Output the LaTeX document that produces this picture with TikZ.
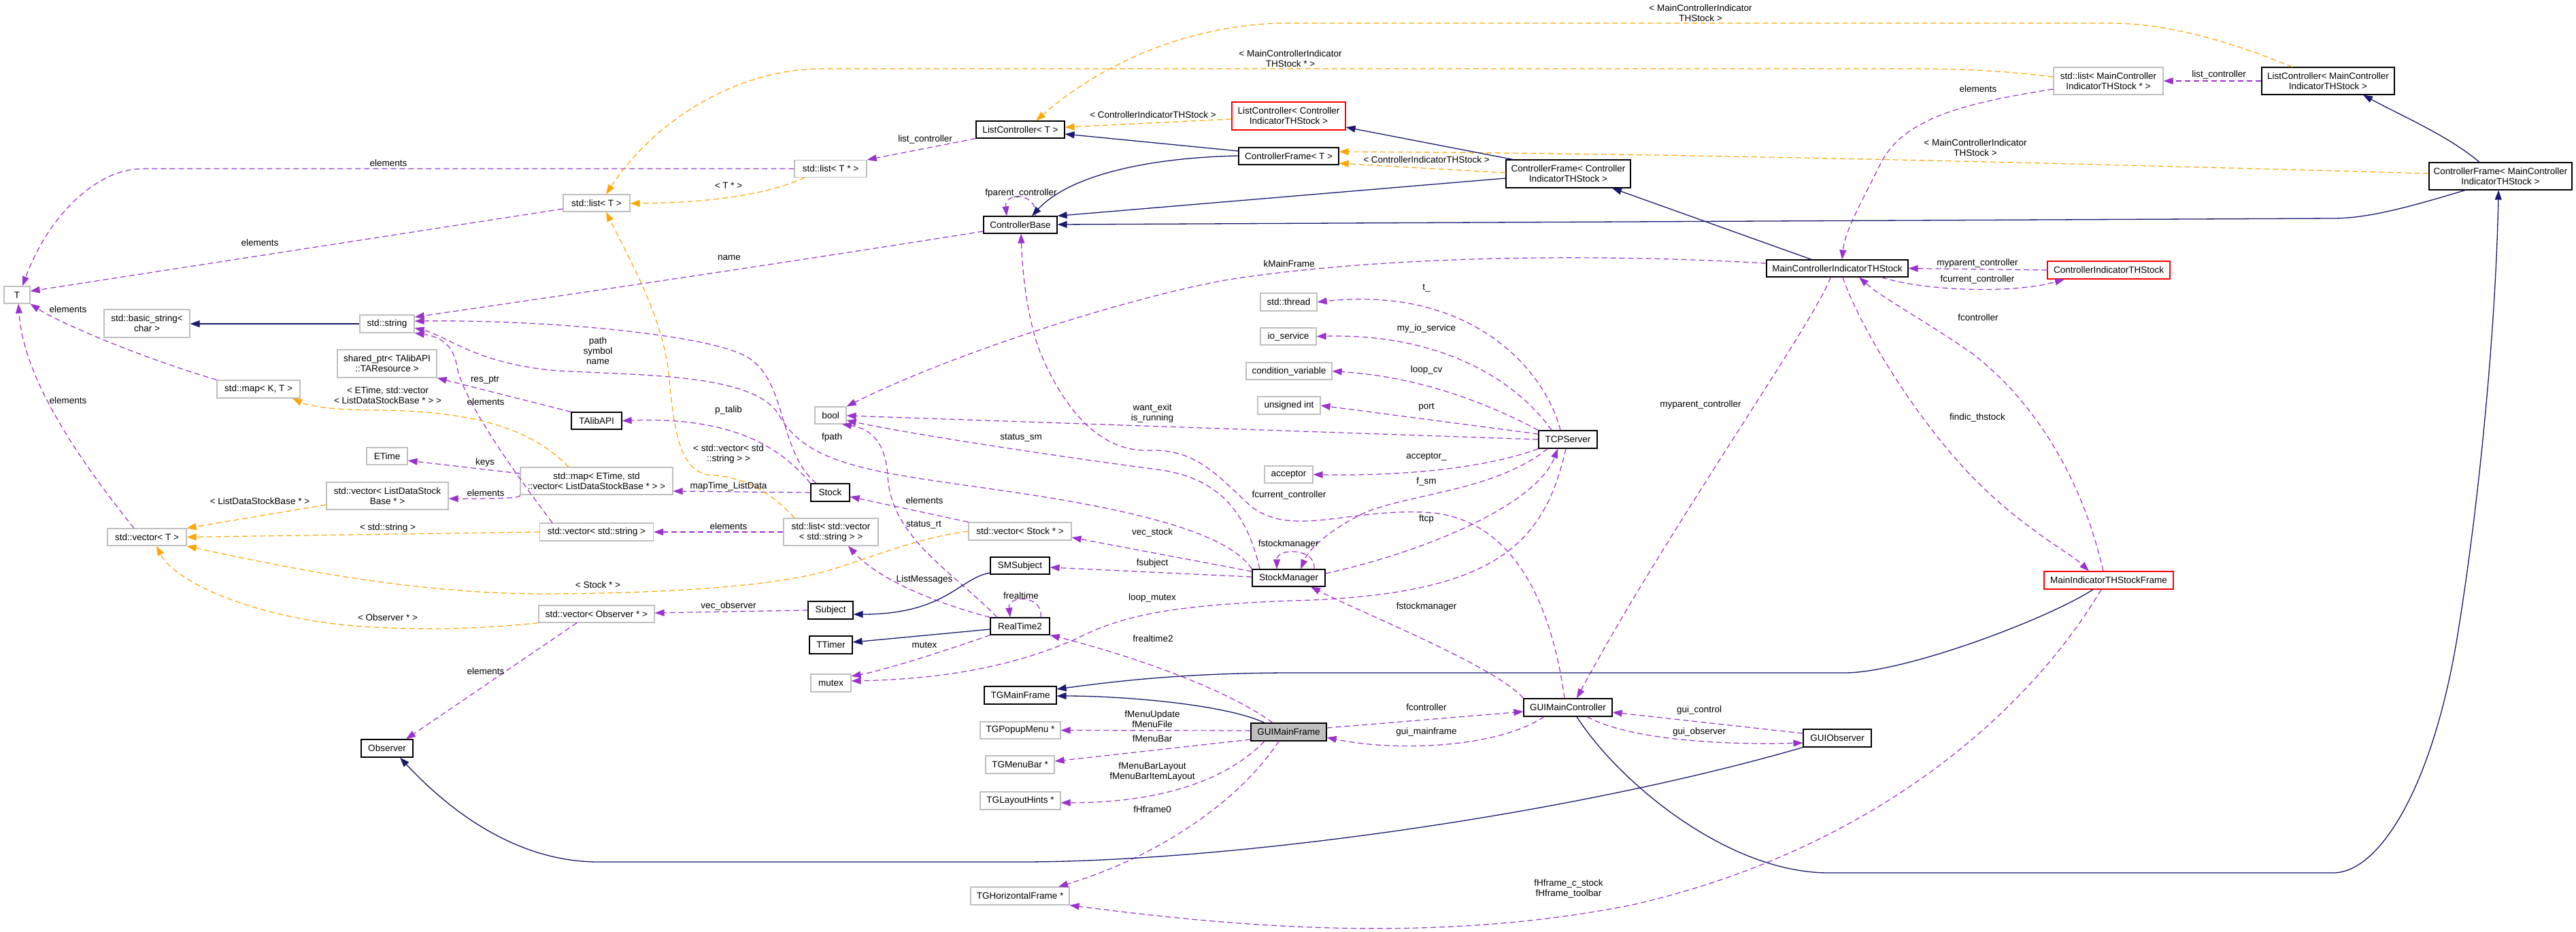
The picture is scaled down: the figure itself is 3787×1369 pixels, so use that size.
\documentclass[tikz,border=0pt]{standalone}
\usepackage{fontspec}
\setmainfont{Liberation Sans}
\usetikzlibrary{arrows.meta}
\definecolor{purp}{HTML}{9A32CD}
\definecolor{orng}{HTML}{FFA500}
\definecolor{navy}{HTML}{191970}
\definecolor{gry}{HTML}{BFBFBF}
\newcommand{\fsz}{\fontsize{13.5}{15}\selectfont}
\tikzset{
 box/.style={draw, line width=1.2pt, inner sep=0pt, align=center, fill=white, font=\fsz},
 undoc/.style={box, draw=gry},
 doc/.style={box, draw=black},
 trunc/.style={box, draw=red},
 wh/.style 2 args={minimum width=#1pt, minimum height=#2pt},
 lbl/.style={inner sep=0pt, align=center, font=\fsz},
 mem/.style={draw=purp, line width=1.2pt, dash pattern=on 8pt off 5pt, -{Triangle[length=14pt,width=10pt]}},
 tpl/.style={mem, draw=orng},
 inh/.style={draw=navy, line width=1.3pt, -{Triangle[length=14pt,width=10pt]}},
}
\begin{document}
\begin{tikzpicture}[x=1pt,y=-1pt]
\fill[white] (0,0) rectangle (3787,1369);
\path[use as bounding box] (0,0) rectangle (3787,1369);
% ---------- nodes ----------
\node[undoc,wh={38}{25}] (T) at (25,433.5) {T};
\node[undoc,wh={98}{25}] (listT) at (877,298.5) {std::list< T >};
\node[undoc,wh={126}{41}] (basicstr) at (216,475.5) {std::basic\_string<\\char >};
\node[undoc,wh={80}{26}] (stdstr) at (569,476) {std::string};
\node[undoc,wh={146}{41}] (sharedptr) at (569,534.5) {shared\_ptr< TAlibAPI\\::TAResource >};
\node[undoc,wh={122}{26}] (mapKT) at (380,572) {std::map< K, T >};
\node[doc,wh={74}{25}] (talib) at (877,618.5) {TAlibAPI};
\node[undoc,wh={60}{25}] (etime) at (569,670.5) {ETime};
\node[undoc,wh={224}{40}] (mapET) at (877,707) {std::map< ETime, std\\::vector< ListDataStockBase * > >};
\node[undoc,wh={179}{40}] (vecLDSB) at (569.5,729) {std::vector< ListDataStock\\Base * >};
\node[undoc,wh={116}{25}] (vecT) at (216,789.5) {std::vector< T >};
\node[undoc,wh={167}{26}] (vecStr) at (877,782) {std::vector< std::string >};
\node[undoc,wh={170}{25}] (vecObs) at (877,902.5) {std::vector< Observer * >};
\node[doc,wh={76}{26}] (observer) at (569,1100) {Observer};
\node[undoc,wh={106}{25}] (listTp) at (1221,248) {std::list< T * >};
\node[doc,wh={130}{25}] (lcT) at (1500,190.5) {ListController< T >};
\node[doc,wh={108}{25}] (cbase) at (1500,330.5) {ControllerBase};
\node[trunc,wh={167}{41}] (lcCIT) at (1894.5,170.5) {ListController< Controller\\IndicatorTHStock >};
\node[doc,wh={147}{25}] (cfT) at (1894.5,229.5) {ControllerFrame< T >};
\node[undoc,wh={83}{26}] (thread) at (1894.5,444) {std::thread};
\node[undoc,wh={82}{25}] (ioserv) at (1894,494.5) {io\_service};
\node[undoc,wh={126}{25}] (condvar) at (1895,545.5) {condition\_variable};
\node[undoc,wh={92}{26}] (uint) at (1895,596) {unsigned int};
\node[undoc,wh={71}{25}] (acceptor) at (1894.5,697.5) {acceptor};
\node[undoc,wh={46}{25}] (bool) at (1221,610.5) {bool};
\node[doc,wh={57}{26}] (stock) at (1220.5,724) {Stock};
\node[undoc,wh={139}{40}] (listVecStr) at (1221.5,782) {std::list< std::vector\\< std::string > >};
\node[undoc,wh={151}{26}] (vecStock) at (1499.5,781) {std::vector< Stock * >};
\node[doc,wh={87}{25}] (smsubject) at (1499.5,831.5) {SMSubject};
\node[doc,wh={66}{26}] (subject) at (1221,897) {Subject};
\node[doc,wh={107}{25}] (stockmgr) at (1894.5,849.5) {StockManager};
\node[doc,wh={87}{25}] (realtime2) at (1499.5,920.5) {RealTime2};
\node[doc,wh={63}{26}] (ttimer) at (1221.5,948) {TTimer};
\node[undoc,wh={59}{26}] (mutex) at (1221.5,1004) {mutex};
\node[doc,wh={106}{26}] (tgmain) at (1500,1022) {TGMainFrame};
\node[undoc,wh={118}{25}] (tgpopup) at (1500,1073.5) {TGPopupMenu *};
\node[undoc,wh={101}{26}] (tgmenubar) at (1499.5,1124) {TGMenuBar *};
\node[undoc,wh={118}{26}] (tglayout) at (1500,1177) {TGLayoutHints *};
\node[undoc,wh={145}{26}] (tghframe) at (1499.5,1317) {TGHorizontalFrame *};
\node[doc,fill=gry,wh={111}{26}] (gmf) at (1894.5,1076) {GUIMainFrame};
\node[doc,wh={86}{26}] (tcp) at (2305,646) {TCPServer};
\node[doc,wh={183}{41}] (cfCIT) at (2305.5,255.5) {ControllerFrame< Controller\\IndicatorTHStock >};
\node[doc,wh={208}{25}] (mainCIT) at (2701,394.5) {MainControllerIndicatorTHStock};
\node[doc,wh={130}{26}] (gmc) at (2305,1040) {GUIMainController};
\node[doc,wh={100}{26}] (guiobs) at (2701,1085) {GUIObserver};
\node[undoc,wh={161}{40}] (listMCIT) at (3099.5,119) {std::list< MainController\\IndicatorTHStock * >};
\node[doc,wh={195}{40}] (lcMCIT) at (3422.5,119) {ListController< MainController\\IndicatorTHStock >};
\node[doc,wh={210}{40}] (cfMCIT) at (3676,259) {ControllerFrame< MainController\\IndicatorTHStock >};
\node[trunc,wh={180}{26}] (cit) at (3100,397) {ControllerIndicatorTHStock};
\node[trunc,wh={190}{26}] (mitsf) at (3100,853) {MainIndicatorTHStockFrame};
% ---------- member edges ----------
\draw[mem] (listT.west |- 0,307) -- (T.east |- 0,428);
\draw[mem] (listTp.west) -- (210,248) .. controls (140,248) and (70,320) .. (T.north -| 33,0);
\draw[mem] (mapKT.north west) .. controls (190,520) and (80,470) .. (T.south east);
\draw[mem] (vecT.north -| 197,0) .. controls (120,680) and (35,560) .. (T.south -| 27,0);
\draw[mem] (lcT.south west) -- (listTp.north east);
\draw[mem] (lcMCIT.west) -- (listMCIT.east);
\draw[mem] (listMCIT.west |- 0,131) .. controls (2900,150) and (2800,170) .. (2765,240) .. controls (2735,300) and (2712,340) .. (mainCIT.north -| 2708,0);
\draw[mem] (cbase.north -| 1522,0) .. controls (1526,282) and (1476,282) .. (cbase.north -| 1480,0);
\draw[mem] (cbase.west |- 0,340) .. controls (1100,395) and (720,450) .. (stdstr.east |- 0,466);
\draw[mem] (mainCIT.south -| 2766,0) .. controls (2830,428) and (2960,432) .. (cit.south -| 3035,0);
\draw[mem] (cit.west) -- (mainCIT.east);
\draw[mem] (mainCIT.west |- 0,387) .. controls (2300,370) and (2000,380) .. (1800,412) .. controls (1650,440) and (1400,520) .. (bool.north east);
\draw[mem] (tcp.north -| 2294,0) .. controls (2270,540) and (2160,420) .. (thread.east);
\draw[mem] (tcp.north -| 2281,0) .. controls (2230,560) and (2120,490) .. (ioserv.east);
\draw[mem] (tcp.north west) .. controls (2200,600) and (2100,555) .. (condvar.east);
\draw[mem] (tcp.west |- 0,638) -- (uint.east);
\draw[mem] (tcp.west |- 0,646) -- (bool.east |- 0,611);
\draw[mem] (tcp.south west) .. controls (2180,690) and (2050,700) .. (acceptor.east);
\draw[mem] (tcp.south -| 2275,0) .. controls (2200,720) and (2080,725) .. (2010,752) .. controls (1960,775) and (1925,805) .. (stockmgr.north -| 1912,0);
\draw[mem] (stockmgr.east |- 0,843) .. controls (2100,810) and (2260,740) .. (tcp.south -| 2290,0);
\draw[mem] (tcp.south -| 2302,0) .. controls (2270,800) and (2200,875) .. (1900,883) .. controls (1700,890) and (1640,910) .. (1580,940) .. controls (1500,975) and (1400,998) .. (mutex.east |- 0,1001);
\draw[mem] (gmc.north -| 2300,0) .. controls (2280,880) and (2220,758) .. (2094,753) .. controls (1980,748) and (1900,790) .. (1840,745) .. controls (1790,700) and (1760,660) .. (1690,662) .. controls (1610,665) and (1560,590) .. (1530,520) .. controls (1510,470) and (1503,400) .. (cbase.south -| 1501,0);
\draw[mem] (mainCIT.south -| 2709,0) .. controls (2730,470) and (2800,590) .. (2880,680) .. controls (2960,770) and (3040,810) .. (mitsf.north -| 3071,0);
\draw[mem] (mitsf.north -| 3092,0) .. controls (3060,700) and (2990,590) .. (2900,520) .. controls (2820,465) and (2770,440) .. (mainCIT.south -| 2733,0);
\draw[mem] (mainCIT.south -| 2691,0) .. controls (2670,470) and (2450,780) .. (gmc.north -| 2318,0);
\draw[mem] (gmc.north west) .. controls (2200,980) and (2000,900) .. (stockmgr.south -| 1927,0);
\draw[mem] (stockmgr.north -| 1932,0) .. controls (1935,805) and (1877,805) .. (stockmgr.north -| 1877,0);
\draw[mem] (stockmgr.north -| 1852,0) .. controls (1830,740) and (1780,700) .. (1700,690) .. controls (1550,670) and (1350,640) .. (bool.east |- 0,618);
\draw[mem] (stockmgr.west |- 0,840) -- (vecStock.east |- 0,790);
\draw[mem] (stockmgr.west |- 0,848) -- (smsubject.east |- 0,834);
\draw[mem] (stockmgr.north west) .. controls (1810,790) and (1700,755) .. (1500,725) .. controls (1300,695) and (1190,690) .. (1145,610) .. controls (1110,550) and (950,552) .. (820,545) .. controls (700,535) and (660,495) .. (stdstr.east |- 0,482);
\draw[mem] (stock.north west) .. controls (1150,660) and (1080,612) .. (talib.east);
\draw[mem] (stock.north -| 1200,0) .. controls (1140,660) and (1160,550) .. (1089,520) .. controls (1020,490) and (800,470) .. (stdstr.east |- 0,472);
\draw[mem] (vecStr.north -| 812,0) .. controls (730,660) and (680,580) .. (672,540) .. controls (668,510) and (650,495) .. (stdstr.south east);
\draw[mem] (talib.north west) -- (sharedptr.south east);
\draw[mem] (mapET.west |- 0,696) -- (etime.east |- 0,677);
\draw[mem] (mapET.south west) .. controls (770,733) and (720,733) .. (vecLDSB.east |- 0,733);
\draw[mem] (stock.west) -- (mapET.east |- 0,722);
\draw[mem] (listVecStr.west) -- (vecStr.east);
\draw[mem] (vecStock.north west) -- (stock.east |- 0,730);
\draw[mem] (realtime2.north west) .. controls (1370,885) and (1290,850) .. (listVecStr.south -| 1247,0);
\draw[mem] (subject.west) -- (vecObs.east |- 0,901);
\draw[mem] (vecObs.south -| 848,0) -- (observer.north -| 597,0);
\draw[mem] (realtime2.north -| 1530,0) .. controls (1534,874) and (1481,874) .. (realtime2.north -| 1485,0);
\draw[mem] (realtime2.north -| 1466,0) .. controls (1400,840) and (1310,790) .. (1305,700) .. controls (1302,650) and (1280,630) .. (bool.south -| 1238,0);
\draw[mem] (realtime2.south west) .. controls (1380,960) and (1300,985) .. (mutex.east |- 0,994);
\draw[mem] (gmf.north -| 1871,0) .. controls (1800,1010) and (1650,960) .. (realtime2.south east);
\draw[mem] (gmf.west |- 0,1074) -- (tgpopup.east);
\draw[mem] (gmf.west |- 0,1087) -- (tgmenubar.east |- 0,1119);
\draw[mem] (gmf.south -| 1859,0) .. controls (1800,1150) and (1700,1180) .. (tglayout.east |- 0,1180);
\draw[mem] (gmf.south -| 1880,0) .. controls (1820,1180) and (1700,1260) .. (tghframe.north -| 1556,0);
\draw[mem] (mitsf.south -| 3089,0) .. controls (2980,1050) and (2750,1250) .. (2400,1330) .. controls (2100,1390) and (1800,1360) .. (tghframe.south east);
\draw[mem] (gmf.east |- 0,1070) -- (gmc.west |- 0,1046);
\draw[mem] (gmc.south -| 2270,0) .. controls (2200,1100) and (2050,1105) .. (gmf.east |- 0,1084);
\draw[mem] (guiobs.west |- 0,1078) -- (gmc.east |- 0,1047);
\draw[mem] (gmc.south -| 2333,0) .. controls (2400,1090) and (2550,1095) .. (guiobs.west |- 0,1092);
% ---------- template edges ----------
\draw[tpl] (listMCIT.west |- 0,113) .. controls (2950,105) and (2900,101) .. (2800,101) -- (1210,101) .. controls (1080,101) and (960,180) .. (listT.north -| 891,0);
\draw[tpl] (lcMCIT.north -| 3370,0) .. controls (3300,70) and (3200,34) .. (3100,34) -- (1880,34) .. controls (1720,40) and (1600,110) .. (lcT.north -| 1523,0);
\draw[tpl] (lcCIT.west |- 0,175) -- (lcT.east |- 0,187);
\draw[tpl] (cfCIT.west |- 0,254) -- (cfT.east |- 0,240);
\draw[tpl] (cfMCIT.west |- 0,255) .. controls (2900,236) and (2400,225) .. (cfT.east |- 0,223);
\draw[tpl] (listTp.south -| 1183,0) .. controls (1130,285) and (1050,298) .. (listT.east |- 0,299);
\draw[tpl] (listVecStr.north -| 1168,0) .. controls (1130,720) and (1090,700) .. (1041,698) .. controls (995,690) and (990,620) .. (982,540) .. controls (970,460) and (930,390) .. (listT.south -| 891,0);
\draw[tpl] (mapET.north -| 836,0) .. controls (790,640) and (720,605) .. (560,603) .. controls (480,603) and (450,595) .. (mapKT.south -| 430,0);
\draw[tpl] (vecLDSB.west |- 0,742) -- (vecT.north east);
\draw[tpl] (vecStr.west) -- (vecT.east);
\draw[tpl] (vecStock.west) .. controls (1350,790) and (1280,820) .. (1223,837) .. controls (1150,860) and (1000,872) .. (800,873) .. controls (600,873) and (400,830) .. (vecT.south east);
\draw[tpl] (vecObs.south west) .. controls (700,925) and (600,928) .. (500,918) .. controls (380,905) and (260,860) .. (vecT.south -| 230,0);
% ---------- inheritance edges ----------
\draw[inh] (stdstr.west) -- (basicstr.east |- 0,476);
\draw[inh] (cfT.west |- 0,222) -- (lcT.east |- 0,197);
\draw[inh] (cfT.west |- 0,229) .. controls (1680,232) and (1570,260) .. (cbase.north -| 1517,0);
\draw[inh] (cfCIT.north -| 2224,0) -- (lcCIT.east |- 0,187);
\draw[inh] (cfCIT.west |- 0,262) -- (cbase.north east);
\draw[inh] (mainCIT.north -| 2663,0) -- (cfCIT.south -| 2370,0);
\draw[inh] (cfMCIT.north -| 3645,0) .. controls (3600,200) and (3530,170) .. (lcMCIT.south -| 3474,0);
\draw[inh] (cfMCIT.south -| 3624,0) .. controls (3540,305) and (3480,321) .. (3430,321) -- (cbase.east |- 0,330);
\draw[inh] (gmc.south -| 2318,0) .. controls (2380,1150) and (2540,1283) .. (2688,1283) -- (3430,1283) .. controls (3500,1283) and (3580,1150) .. (3615,920) .. controls (3650,700) and (3670,450) .. (cfMCIT.south -| 3673,0);
\draw[inh] (smsubject.west |- 0,842) .. controls (1410,850) and (1390,903) .. (subject.east |- 0,903);
\draw[inh] (realtime2.west |- 0,925) -- (ttimer.east |- 0,944);
\draw[inh] (gmf.north -| 1859,0) .. controls (1800,1035) and (1650,1023) .. (tgmain.east |- 0,1023);
\draw[inh] (mitsf.south -| 3077,0) .. controls (3010,910) and (2800,989) .. (2712,989) -- (1900,989) .. controls (1750,989) and (1650,1000) .. (tgmain.east |- 0,1013);
\draw[inh] (guiobs.south west) .. controls (2300,1200) and (1800,1267) .. (1500,1267) -- (880,1267) .. controls (750,1267) and (650,1180) .. (observer.south -| 588,0);
% ---------- labels ----------
\node[lbl] (la1) at (571,240) {elements};
\node[lbl] (la2) at (382,357) {elements};
\node[lbl] (la3) at (100,455) {elements};
\node[lbl] (la4) at (100,589) {elements};
\node[lbl] (la5) at (879,516) {path\\symbol\\name};
\node[lbl] (la6) at (713,559) {res\_ptr};
\node[lbl] (la7) at (570,581) {< ETime, std::vector\\< ListDataStockBase * > >};
\node[lbl] (la8) at (714,591) {elements};
\node[lbl] (la9) at (713,680) {keys};
\node[lbl] (la10) at (714,725) {elements};
\node[lbl] (la11) at (382,737) {< ListDataStockBase * >};
\node[lbl] (la12) at (570,776) {< std::string >};
\node[lbl] (la13) at (879,860) {< Stock * >};
\node[lbl] (la14) at (570,908) {< Observer * >};
\node[lbl] (la15) at (714,987) {elements};
\node[lbl] (la16) at (1360,205) {list\_controller};
\node[lbl] (la17) at (1071,273) {< T * >};
\node[lbl] (la18) at (1501,284) {fparent\_controller};
\node[lbl] (la19) at (1072,379) {name};
\node[lbl] (la20) at (1895,388) {kMainFrame};
\node[lbl] (la21) at (1695,169) {< ControllerIndicatorTHStock >};
\node[lbl] (la22) at (1897,86) {< MainControllerIndicator\\THStock * >};
\node[lbl] (la23) at (2500,19) {< MainControllerIndicator\\THStock >};
\node[lbl] (la24) at (2097,235) {< ControllerIndicatorTHStock >};
\node[lbl] (la25) at (2097,423) {t\_};
\node[lbl] (la26) at (2904,217) {< MainControllerIndicator\\THStock >};
\node[lbl] (la27) at (3262,110) {list\_controller};
\node[lbl] (la28) at (2908,131) {elements};
\node[lbl] (la29) at (2907,387) {myparent\_controller};
\node[lbl] (la30) at (2907,411) {fcurrent\_controller};
\node[lbl] (la31) at (1071,603) {p\_talib};
\node[lbl] (la32) at (1223,643) {fpath};
\node[lbl] (la33) at (1071,667) {< std::vector< std\\::string > >};
\node[lbl] (la34) at (1071,715) {mapTime\_ListData};
\node[lbl] (la35) at (1071,774) {elements};
\node[lbl] (la36) at (1359,736) {elements};
\node[lbl] (la37) at (1358,771) {status\_rt};
\node[lbl] (la38) at (1359,852) {ListMessages};
\node[lbl] (la39) at (1071,891) {vec\_observer};
\node[lbl] (la40) at (1694,607) {want\_exit\\is\_running};
\node[lbl] (la41) at (1501,643) {status\_sm};
\node[lbl] (la42) at (1694,783) {vec\_stock};
\node[lbl] (la43) at (1694,828) {fsubject};
\node[lbl] (la44) at (1501,876) {frealtime};
\node[lbl] (la45) at (1694,879) {loop\_mutex};
\node[lbl] (la46) at (1894,800) {fstockmanager};
\node[lbl] (la47) at (1895,728) {fcurrent\_controller};
\node[lbl] (la48) at (2097,483) {my\_io\_service};
\node[lbl] (la49) at (2097,544) {loop\_cv};
\node[lbl] (la50) at (2097,599) {port};
\node[lbl] (la51) at (2097,672) {acceptor\_};
\node[lbl] (la52) at (2097,708) {f\_sm};
\node[lbl] (la53) at (2097,763) {ftcp};
\node[lbl] (la54) at (2097,892) {fstockmanager};
\node[lbl] (la55) at (2500,595) {myparent\_controller};
\node[lbl] (la56) at (2908,467) {fcontroller};
\node[lbl] (la57) at (2907,614) {findic\_thstock};
\node[lbl] (la58) at (1359,948) {mutex};
\node[lbl] (la59) at (1695,939) {frealtime2};
\node[lbl] (la60) at (1694,1057) {fMenuUpdate\\fMenuFile};
\node[lbl] (la61) at (1694,1086) {fMenuBar};
\node[lbl] (la62) at (1694,1134) {fMenuBarLayout\\fMenuBarItemLayout};
\node[lbl] (la63) at (1694,1190) {fHframe0};
\node[lbl] (la64) at (2097,1040) {fcontroller};
\node[lbl] (la65) at (2097,1076) {gui\_mainframe};
\node[lbl] (la66) at (2498,1044) {gui\_control};
\node[lbl] (la67) at (2498,1076) {gui\_observer};
\node[lbl] (la68) at (2306,1306) {fHframe\_c\_stock\\fHframe\_toolbar};
\end{tikzpicture}
\end{document}
